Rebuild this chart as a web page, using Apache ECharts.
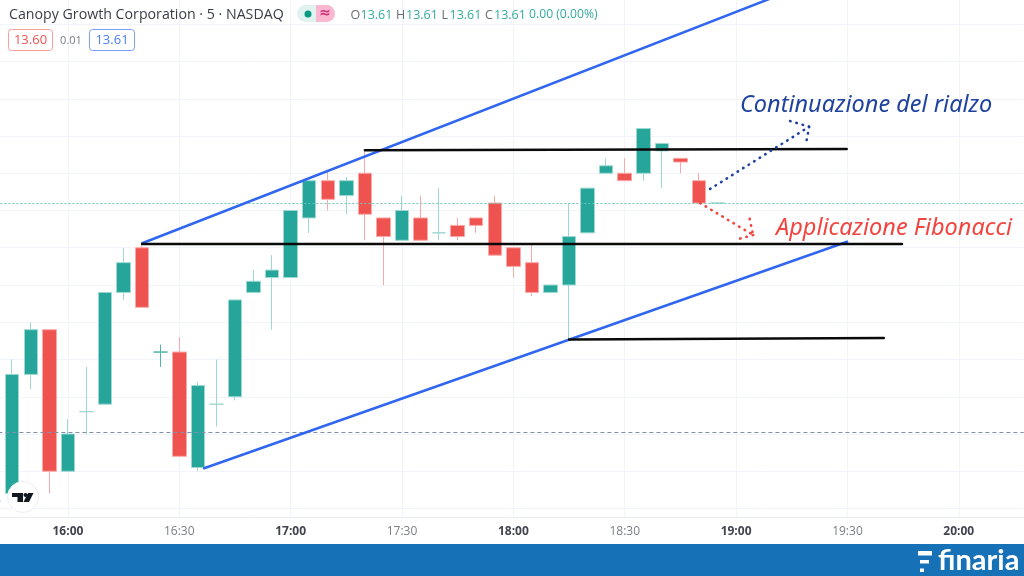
<!DOCTYPE html>
<html><head><meta charset="utf-8">
<style>html,body{margin:0;padding:0;background:#fff}#c{width:1024px;height:576px}</style>
<script src="https://cdn.jsdelivr.net/npm/echarts@6/dist/echarts.min.js"></script>
</head><body><div id="c"></div>
<script>
const categories = ['15:40','15:45','15:50','15:55','16:00','16:05','16:10','16:15','16:20','16:25','16:30','16:35','16:40','16:45','16:50','16:55','17:00','17:05','17:10','17:15','17:20','17:25','17:30','17:35','17:40','17:45','17:50','17:55','18:00','18:05','18:10','18:15','18:20','18:25','18:30','18:35','18:40','18:45','18:50','18:55','19:00','19:05','19:10','19:15','19:20','19:25','19:30','19:35','19:40','19:45','19:50','19:55','20:00','20:05','20:10','20:15'];
const opens  = [13.21,13.22,13.38,13.44,13.25,13.33,13.34,13.49,13.55,13.41,13.41,13.255,13.34,13.35,13.49,13.51,13.51,13.59,13.64,13.62,13.65,13.59,13.56,13.59,13.57,13.58,13.59,13.61,13.55,13.53,13.49,13.50,13.57,13.65,13.65,13.65,13.68,13.67,13.64,13.61];
const closes = [13.21,13.38,13.44,13.25,13.30,13.33,13.49,13.53,13.47,13.41,13.27,13.365,13.34,13.48,13.505,13.52,13.60,13.64,13.615,13.64,13.595,13.565,13.60,13.56,13.57,13.565,13.58,13.54,13.525,13.49,13.50,13.565,13.63,13.66,13.64,13.71,13.69,13.665,13.61,13.61];
const lows   = [13.21,13.22,13.36,13.22,13.25,13.30,13.34,13.48,13.47,13.39,13.27,13.25,13.31,13.345,13.49,13.44,13.51,13.57,13.60,13.595,13.56,13.50,13.56,13.56,13.56,13.56,13.57,13.54,13.51,13.485,13.49,13.426,13.57,13.65,13.64,13.64,13.63,13.65,13.61,13.61];
const highs  = [13.21,13.40,13.45,13.44,13.32,13.39,13.49,13.55,13.556,13.42,13.43,13.37,13.40,13.48,13.52,13.54,13.60,13.64,13.652,13.645,13.68,13.59,13.62,13.62,13.63,13.59,13.59,13.62,13.55,13.555,13.50,13.61,13.63,13.67,13.67,13.71,13.69,13.67,13.65,13.61];
const darkDojiTimes = ['16:25'];
const lastPrice = 13.61;
const prevClose = 13.302;
// Drawings: [minutes since midnight, price]
const upperChannel = [[980,13.556],[1150,13.886]];
const lowerChannel = [[996.7,13.254],[1169.9,13.558]];
const resistanceHigh = [[1040,13.681],[1169.8,13.6826]];
const middleLevel = [[980,13.555],[1184.7,13.555]];
const supportLow = [[1095,13.4268],[1179.8,13.4289]];
const bullPath = [[1133,13.6289],[1159.7,13.7125],[1154.5,13.7201]];
const bullHead = [[1159.7,13.7125],[1158.8,13.6889]];
const bearPath = [[1130.3,13.61],[1144.6,13.5671],[1143.5,13.5926]];
const bearHead = [[1144.6,13.5671],[1139.7,13.5604]];
const ohlcLabels = ['O','H','L','C'];
const ohlcValues = ['13.61','13.61','13.61','13.61'];

const GREEN='#26A69A', RED='#EF5350', WICK_G='#9DD8D1', WICK_R='#F9A9A7', GRID='#F2F4FB';
const candleData = categories.map((c,i)=>{
  if(i>=opens.length) return ['-','-','-','-'];
  const v=[opens[i],closes[i],lows[i],highs[i]];
  if(darkDojiTimes.includes(c)) return {value:v,itemStyle:{borderColorDoji:'#4DB6AC',borderColor:'#4DB6AC',borderColor0:'#4DB6AC'}};
  return v;
});
const isMajor = (s)=>s.endsWith(':00');
const showTick = (i,s)=>s.endsWith(':00')||s.endsWith(':30');
const lineS=(data,color,width,type)=>({type:'line',xAxisIndex:2,yAxisIndex:0,data,symbol:'none',silent:true,z:6,
  lineStyle:{color,width,type:type||'solid',cap:'round'}});
const ohlcX=[350.5,396,441.5,485], ohlcValX=[360.5,406,449.5,494];
const mid={verticalAlign:'middle'}, ctr={verticalAlign:'middle',align:'center'};
const graphics=[
 {type:'rect',z:5,shape:{x:0,y:518,width:1024,height:26},style:{fill:'#fff'}},
 {type:'rect',z:20,shape:{x:0,y:544,width:1024,height:32},style:{fill:'#1771B7'}},
 {type:'rect',z:21,shape:{x:918,y:551,width:14,height:4.5},style:{fill:'#fff'}},
 {type:'rect',z:21,shape:{x:920,y:560,width:9,height:3.5},style:{fill:'#fff'}},
 {type:'rect',z:21,shape:{x:920,y:568.5,width:4,height:3.5},style:{fill:'#fff'}},
 {type:'text',z:21,x:938,y:561,style:{text:'finaria',fill:'#fff',font:'bold 29px Lato',...mid}},
 {type:'text',z:21,x:9,y:15,style:{text:'Canopy Growth Corporation · 5 · NASDAQ',fill:'#3a3d47',font:'14.2px "Open Sans"',...mid}},
 {type:'rect',z:21,shape:{x:297,y:5,width:38,height:17,r:8.5},style:{fill:'#E0F3F0'}},
 {type:'rect',z:22,shape:{x:316,y:5,width:19,height:17,r:[0,8.5,8.5,0]},style:{fill:'#F9B8CF'}},
 {type:'circle',z:22,shape:{cx:308,cy:14,r:3.5},style:{fill:'#089981'}},
 {type:'text',z:23,x:325,y:13.5,style:{text:'≈',fill:'#D0307A',font:'bold 14px "DejaVu Sans"',...ctr}},
 {type:'text',z:21,x:529,y:15,style:{text:'0.00 (0.00%)',fill:'#33AB9F',font:'12.2px "Open Sans"',...mid}},
 {type:'rect',z:21,shape:{x:8.5,y:29.5,width:44,height:21,r:3},style:{fill:'#fff',stroke:'#FB9E9C',lineWidth:1}},
 {type:'text',z:22,x:30.5,y:40.5,style:{text:'13.60',fill:RED,font:'13px "Open Sans"',...ctr}},
 {type:'text',z:22,x:71,y:40.5,style:{text:'0.01',fill:'#787B86',font:'11px "Open Sans"',...ctr}},
 {type:'rect',z:21,shape:{x:89.5,y:29.5,width:45,height:21,r:3},style:{fill:'#fff',stroke:'#7C9EFB',lineWidth:1}},
 {type:'text',z:22,x:112,y:40.5,style:{text:'13.61',fill:'#4C7CF6',font:'13px "Open Sans"',...ctr}},
 {type:'text',z:21,x:740,y:105.5,style:{text:'Continuazione del rialzo',fill:'#1F429E',font:'italic 23.5px "Noto Sans"',...mid}},
 {type:'text',z:21,x:776,y:228,style:{text:'Applicazione Fibonacci',fill:'#F2453F',font:'italic 23.5px "Noto Sans"',...mid}},
 {type:'circle',z:21,shape:{cx:23,cy:497,r:15.5},style:{fill:'#fff',stroke:'#ECEEF2',lineWidth:1}},
 {type:'polygon',z:22,shape:{points:[[12,493],[23,493],[23,502],[17.5,502],[17.5,497],[12,497]]},style:{fill:'#131722'}},
 {type:'circle',z:22,shape:{cx:25.5,cy:495,r:2},style:{fill:'#131722'}},
 {type:'polygon',z:22,shape:{points:[[28,493],[33.5,493],[29,502],[23.5,502]]},style:{fill:'#131722'}},
];
ohlcLabels.forEach((t,i)=>{
  graphics.push({type:'text',z:21,x:ohlcX[i],y:15,style:{text:t,fill:'#6A6D78',font:'12.5px "Open Sans"',...mid}});
  graphics.push({type:'text',z:21,x:ohlcValX[i],y:15,style:{text:ohlcValues[i],fill:'#33AB9F',font:'12.5px "Open Sans"',...mid}});
});
const chart=echarts.init(document.getElementById('c'),null,{renderer:'canvas'});
chart.setOption({
  animation:false,backgroundColor:'#fff',
  grid:[
    {left:-15.6,width:1039.36,top:-13,height:558.75,outerBoundsMode:'none'},
    {left:-15.6,width:1039.36,top:517,height:27,outerBoundsMode:'none'}
  ],
  xAxis:[
    {type:'category',gridIndex:0,data:categories,boundaryGap:true,axisLine:{show:false},axisTick:{show:false},axisLabel:{show:false},
     splitLine:{show:true,alignWithLabel:true,interval:showTick,lineStyle:{color:GRID,width:1}}},
    {type:'category',gridIndex:1,position:'top',z:6,data:categories,boundaryGap:true,axisLine:{show:true,onZero:false,lineStyle:{color:'#E9ECF2',width:1}},axisTick:{show:false},
     splitLine:{show:false},
     axisLabel:{show:true,inside:true,margin:9,interval:showTick,hideOverlap:false,
       formatter:(s)=>isMajor(s)?'{b|'+s+'}':'{n|'+s+'}',
       rich:{b:{fontFamily:'Open Sans',fontSize:12,fontWeight:'bold',color:'#41444F'},n:{fontFamily:'Open Sans',fontSize:12,color:'#7B7E89'}}}},
    {type:'value',gridIndex:0,min:937.5,max:1217.5,show:false,splitLine:{show:false}}
  ],
  yAxis:[
    {type:'value',gridIndex:0,min:13.15,max:13.9,interval:0.05,axisLine:{show:false},axisTick:{show:false},axisLabel:{show:false},
     splitLine:{show:true,lineStyle:{color:GRID,width:1}}},
    {type:'value',gridIndex:1,show:false,splitLine:{show:false}}
  ],
  series:[
    {type:'candlestick',xAxisIndex:0,yAxisIndex:0,barWidth:14,z:3,data:candleData,silent:true,
     itemStyle:{color:GREEN,color0:RED,borderColor:WICK_G,borderColor0:WICK_R,borderColorDoji:WICK_G,borderWidth:1},
     markLine:{silent:true,symbol:'none',animation:false,precision:4,label:{show:false},data:[
       {yAxis:lastPrice,lineStyle:{color:'#6CC7BC',type:[2,2],width:1}},
       {yAxis:prevClose,lineStyle:{color:'#7F8FAE',type:[4,3],width:1}}
     ]}},
    lineS(upperChannel,'#3066F0',2.5),
    lineS(lowerChannel,'#3066F0',2.5),
    lineS(resistanceHigh,'#0A0A0A',2.5),
    lineS(middleLevel,'#0A0A0A',2.5),
    lineS(supportLow,'#0A0A0A',2.5),
    lineS(bullPath,'#1F429E',2.6,[0.5,6]),
    lineS(bullHead,'#1F429E',2.6,[0.5,6]),
    lineS(bearPath,'#F2453F',2.6,[0.5,6]),
    lineS(bearHead,'#F2453F',2.6,[0.5,6])
  ],
  graphic:{elements:graphics}
});
</script></body></html>
